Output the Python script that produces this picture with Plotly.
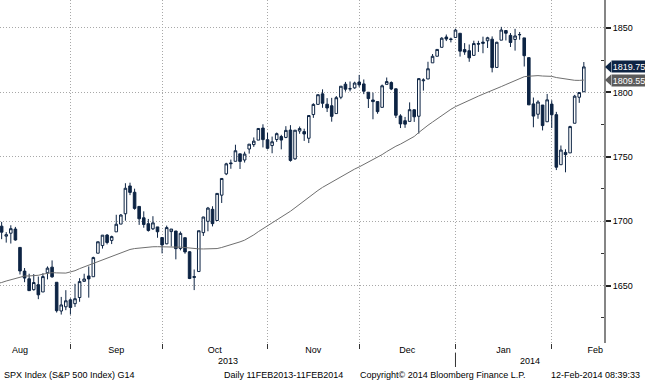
import numpy as np
import plotly.graph_objects as go

# ---------------- data (S&P 500 daily) ----------------
# closes before the visible window, needed for the 50-day moving average
hist_dates = [
    "2013-05-28", "2013-05-29", "2013-05-30", "2013-05-31",
    "2013-06-03", "2013-06-04", "2013-06-05", "2013-06-06", "2013-06-07",
    "2013-06-10", "2013-06-11", "2013-06-12", "2013-06-13", "2013-06-14",
    "2013-06-17", "2013-06-18", "2013-06-19", "2013-06-20", "2013-06-21",
    "2013-06-24", "2013-06-25", "2013-06-26", "2013-06-27", "2013-06-28",
    "2013-07-01", "2013-07-02", "2013-07-03", "2013-07-05",
    "2013-07-08", "2013-07-09", "2013-07-10", "2013-07-11", "2013-07-12",
    "2013-07-15", "2013-07-16", "2013-07-17", "2013-07-18", "2013-07-19",
    "2013-07-22", "2013-07-23", "2013-07-24", "2013-07-25", "2013-07-26",
    "2013-07-29", "2013-07-30", "2013-07-31",
    "2013-08-01", "2013-08-02", "2013-08-05", "2013-08-06", "2013-08-07",
]
hist_close = [
    1660.06, 1648.36, 1654.41, 1630.74,
    1640.42, 1631.38, 1608.90, 1622.56, 1643.38,
    1642.81, 1626.13, 1612.52, 1636.36, 1626.73,
    1639.04, 1651.81, 1628.93, 1588.19, 1592.43,
    1573.09, 1588.03, 1603.26, 1613.20, 1606.28,
    1614.96, 1614.08, 1615.41, 1631.89,
    1640.46, 1652.32, 1652.62, 1675.02, 1680.19,
    1682.50, 1676.26, 1680.91, 1689.37, 1692.09,
    1695.53, 1692.39, 1685.94, 1690.25, 1691.65,
    1685.33, 1685.96, 1685.73,
    1706.87, 1709.67, 1707.14, 1697.37, 1690.91,
]

dates = [
    "2013-08-08", "2013-08-09", "2013-08-12", "2013-08-13", "2013-08-14", "2013-08-15", "2013-08-16",
    "2013-08-19", "2013-08-20", "2013-08-21", "2013-08-22", "2013-08-23",
    "2013-08-26", "2013-08-27", "2013-08-28", "2013-08-29", "2013-08-30",
    "2013-09-03", "2013-09-04", "2013-09-05", "2013-09-06",
    "2013-09-09", "2013-09-10", "2013-09-11", "2013-09-12", "2013-09-13",
    "2013-09-16", "2013-09-17", "2013-09-18", "2013-09-19", "2013-09-20",
    "2013-09-23", "2013-09-24", "2013-09-25", "2013-09-26", "2013-09-27",
    "2013-09-30", "2013-10-01", "2013-10-02", "2013-10-03", "2013-10-04",
    "2013-10-07", "2013-10-08", "2013-10-09", "2013-10-10", "2013-10-11",
    "2013-10-14", "2013-10-15", "2013-10-16", "2013-10-17", "2013-10-18",
    "2013-10-21", "2013-10-22", "2013-10-23", "2013-10-24", "2013-10-25",
    "2013-10-28", "2013-10-29", "2013-10-30", "2013-10-31", "2013-11-01",
    "2013-11-04", "2013-11-05", "2013-11-06", "2013-11-07", "2013-11-08",
    "2013-11-11", "2013-11-12", "2013-11-13", "2013-11-14", "2013-11-15",
    "2013-11-18", "2013-11-19", "2013-11-20", "2013-11-21", "2013-11-22",
    "2013-11-25", "2013-11-26", "2013-11-27", "2013-11-29",
    "2013-12-02", "2013-12-03", "2013-12-04", "2013-12-05", "2013-12-06",
    "2013-12-09", "2013-12-10", "2013-12-11", "2013-12-12", "2013-12-13",
    "2013-12-16", "2013-12-17", "2013-12-18", "2013-12-19", "2013-12-20",
    "2013-12-23", "2013-12-24", "2013-12-26", "2013-12-27",
    "2013-12-30", "2013-12-31", "2014-01-02", "2014-01-03",
    "2014-01-06", "2014-01-07", "2014-01-08", "2014-01-09", "2014-01-10",
    "2014-01-13", "2014-01-14", "2014-01-15", "2014-01-16", "2014-01-17",
    "2014-01-21", "2014-01-22", "2014-01-23", "2014-01-24",
    "2014-01-27", "2014-01-28", "2014-01-29", "2014-01-30", "2014-01-31",
    "2014-02-03", "2014-02-04", "2014-02-05", "2014-02-06", "2014-02-07",
    "2014-02-10", "2014-02-11",
]
opens = [
    1693.35, 1696.10, 1688.37, 1690.65, 1693.88, 1679.61, 1661.22,
    1655.25, 1646.81, 1650.66, 1645.03, 1659.92,
    1664.29, 1652.54, 1630.25, 1633.50, 1638.89,
    1635.95, 1640.72, 1653.28, 1657.44,
    1656.85, 1675.11, 1681.04, 1689.21, 1685.04,
    1691.70, 1697.73, 1705.74, 1727.34, 1722.44,
    1711.44, 1702.60, 1698.02, 1694.05, 1695.52,
    1687.26, 1682.41, 1691.90, 1692.35, 1678.79,
    1687.15, 1676.22, 1656.99, 1660.88, 1691.09,
    1699.86, 1709.17, 1700.49, 1720.17, 1736.72,
    1745.20, 1746.48, 1752.27, 1747.48, 1756.01,
    1759.42, 1762.93, 1772.27, 1763.24, 1758.70,
    1763.40, 1765.67, 1765.00, 1770.74, 1748.37,
    1769.96, 1769.51, 1764.37, 1782.75, 1790.66,
    1798.82, 1790.79, 1789.59, 1783.52, 1796.19,
    1806.33, 1802.87, 1803.48, 1808.01,
    1806.55, 1800.10, 1794.08, 1792.82, 1788.36,
    1806.21, 1807.60, 1802.76, 1781.71, 1777.98,
    1777.48, 1786.47, 1781.46, 1809.00, 1810.39,
    1822.92, 1828.02, 1834.96, 1842.97,
    1841.47, 1842.61, 1845.86, 1833.21,
    1832.31, 1828.71, 1837.90, 1839.00, 1840.06,
    1841.26, 1819.34, 1840.52, 1847.99, 1844.23,
    1841.05, 1844.71, 1842.29, 1826.96,
    1791.03, 1783.00, 1790.15, 1777.17, 1790.88,
    1782.68, 1743.82, 1753.38, 1752.99, 1776.01,
    1796.20, 1800.45,
]
highs = [
    1700.18, 1699.42, 1691.49, 1696.81, 1695.52, 1679.61, 1663.60,
    1659.18, 1658.92, 1656.99, 1659.55, 1664.85,
    1669.51, 1652.54, 1641.18, 1646.41, 1640.08,
    1651.35, 1655.72, 1659.17, 1664.83,
    1672.40, 1684.09, 1689.13, 1689.97, 1688.73,
    1704.95, 1705.52, 1729.44, 1729.86, 1725.23,
    1711.44, 1707.63, 1701.71, 1703.85, 1695.52,
    1687.26, 1696.55, 1693.87, 1692.35, 1691.94,
    1687.15, 1676.79, 1662.47, 1692.56, 1703.44,
    1711.03, 1711.57, 1721.76, 1733.45, 1745.31,
    1747.79, 1759.33, 1752.27, 1753.94, 1759.82,
    1764.99, 1772.09, 1775.22, 1768.53, 1765.67,
    1768.78, 1767.03, 1773.74, 1774.54, 1770.78,
    1773.44, 1771.78, 1782.00, 1791.53, 1798.22,
    1802.33, 1795.51, 1795.73, 1797.16, 1804.84,
    1808.10, 1808.42, 1808.27, 1813.55,
    1810.02, 1800.10, 1799.80, 1792.82, 1806.04,
    1811.52, 1808.52, 1802.97, 1782.99, 1780.92,
    1792.22, 1786.77, 1811.08, 1810.88, 1823.75,
    1829.75, 1833.32, 1842.84, 1844.89,
    1842.47, 1849.44, 1845.86, 1838.24,
    1837.16, 1840.10, 1840.02, 1843.23, 1843.15,
    1843.45, 1839.26, 1850.84, 1847.99, 1846.04,
    1849.31, 1846.87, 1842.29, 1826.96,
    1795.98, 1793.87, 1790.15, 1798.77, 1793.88,
    1784.83, 1758.73, 1755.79, 1774.06, 1798.03,
    1799.94, 1823.54,
]
lows = [
    1684.58, 1686.02, 1683.35, 1682.62, 1684.83, 1658.59, 1652.61,
    1645.84, 1646.08, 1639.43, 1645.03, 1654.81,
    1656.02, 1629.05, 1627.47, 1630.88, 1627.47,
    1633.41, 1637.41, 1653.07, 1640.62,
    1656.85, 1675.11, 1678.70, 1681.96, 1682.22,
    1691.70, 1697.73, 1700.35, 1720.20, 1708.89,
    1697.10, 1694.90, 1691.88, 1693.11, 1687.11,
    1674.99, 1682.07, 1680.34, 1670.36, 1677.33,
    1674.70, 1655.03, 1646.47, 1660.88, 1688.52,
    1692.13, 1695.93, 1700.49, 1714.12, 1735.74,
    1740.67, 1746.48, 1740.50, 1745.50, 1752.45,
    1757.67, 1762.93, 1757.24, 1755.72, 1752.70,
    1761.56, 1755.76, 1764.40, 1746.20, 1747.63,
    1767.85, 1762.29, 1760.64, 1780.22, 1790.66,
    1788.00, 1784.72, 1777.23, 1783.52, 1794.70,
    1800.58, 1800.77, 1802.77, 1803.98,
    1798.60, 1787.85, 1779.09, 1783.38, 1788.36,
    1806.21, 1801.75, 1780.09, 1772.28, 1772.45,
    1777.48, 1777.05, 1767.99, 1801.35, 1810.25,
    1822.92, 1828.02, 1834.96, 1839.81,
    1838.77, 1842.41, 1827.74, 1829.13,
    1823.73, 1828.71, 1831.40, 1830.38, 1834.43,
    1815.52, 1819.34, 1840.52, 1840.30, 1835.23,
    1832.38, 1840.88, 1820.06, 1790.29,
    1772.88, 1779.49, 1770.45, 1777.17, 1772.26,
    1739.66, 1743.82, 1737.92, 1752.99, 1776.01,
    1791.83, 1800.41,
]
closes = [
    1697.48, 1691.42, 1689.47, 1694.16, 1685.39, 1661.32, 1655.83,
    1646.06, 1652.35, 1642.80, 1656.96, 1663.50,
    1656.78, 1630.48, 1634.96, 1638.17, 1632.97,
    1639.77, 1653.08, 1655.08, 1655.17,
    1671.71, 1683.99, 1689.13, 1683.42, 1687.99,
    1697.60, 1704.76, 1725.52, 1722.34, 1709.91,
    1701.84, 1697.42, 1692.77, 1698.67, 1691.75,
    1681.55, 1695.00, 1693.87, 1678.66, 1690.50,
    1676.12, 1655.45, 1656.40, 1692.56, 1703.20,
    1710.14, 1698.06, 1721.54, 1733.15, 1744.50,
    1744.66, 1754.67, 1746.38, 1752.07, 1759.77,
    1762.11, 1771.95, 1763.31, 1756.54, 1761.64,
    1767.93, 1762.97, 1770.49, 1747.15, 1770.61,
    1771.89, 1767.69, 1782.00, 1790.62, 1798.18,
    1791.53, 1787.87, 1781.37, 1795.85, 1804.76,
    1802.48, 1802.75, 1807.23, 1805.81,
    1800.90, 1795.15, 1792.81, 1785.03, 1805.09,
    1808.37, 1802.62, 1782.22, 1775.50, 1775.32,
    1786.54, 1781.00, 1810.65, 1809.60, 1818.32,
    1827.99, 1833.32, 1842.02, 1841.40,
    1841.07, 1848.36, 1831.98, 1831.37,
    1826.77, 1837.88, 1837.49, 1838.13, 1842.37,
    1819.20, 1838.88, 1848.38, 1845.89, 1838.70,
    1843.80, 1844.86, 1828.46, 1790.29,
    1781.56, 1792.50, 1774.20, 1794.19, 1782.59,
    1741.89, 1755.20, 1751.64, 1773.43, 1797.02,
    1799.84, 1819.75,
]

month_keys = ["2013-08", "2013-09", "2013-10", "2013-11", "2013-12", "2014-01", "2014-02"]
month_names = ["Aug", "Sep", "Oct", "Nov", "Dec", "Jan", "Feb"]
year_names = ["2013", "2014"]
price_ticks = [1650, 1700, 1750, 1800, 1850]
price_minor = [1625, 1675, 1725, 1775, 1825]
MA_DAYS = 50
FEB_2014_SESSIONS = 19

footer_left = "SPX Index (S&P 500 Index) G14"
footer_mid = "Daily 11FEB2013-11FEB2014"
footer_copy = "Copyright\u00a9 2014 Bloomberg Finance L.P."
footer_time = "12-Feb-2014 08:39:33"

# ---------------- derived ----------------
NAVY = "#0d2444"
GRAY_MA = "#6f6f6f"
FLAG_GRAY = "#5b5b5b"
FONT = "Liberation Sans"
TXT = "#000000"
GRID = "#a8a8a8"
GRID_DASH = "1px,2px"

all_dates = hist_dates + dates
all_close = np.array(hist_close + closes)
n_hist = len(hist_dates)
x_all = np.arange(len(all_dates))
x_c = x_all[n_hist:]
ma = np.convolve(all_close, np.ones(MA_DAYS) / MA_DAYS, mode="valid")
x_ma = x_all[MA_DAYS - 1:]

month_end = {}
for i, d in enumerate(all_dates):
    month_end[d[:7]] = i
tick_ends = [month_end[k] for k in month_keys[:-1]]
prev_end = month_end["2013-07"]
ends_for_labels = [prev_end] + tick_ends + [tick_ends[-1] + FEB_2014_SESSIONS]
label_pos = [(ends_for_labels[i] + ends_for_labels[i + 1]) / 2 for i in range(len(month_names))]

x_lo = x_c[0] + 0.64
x_hi = x_c[-1] + 4.4
year_break = month_end["2013-12"]
year_pos = [(x_lo + year_break) / 2, (year_break + x_hi) / 2]

fig = go.Figure()
fig.add_trace(go.Scatter(x=x_ma, y=ma, mode="lines",
                         line=dict(color=GRAY_MA, width=1), hoverinfo="skip"))
fig.add_trace(go.Candlestick(
    x=x_c, open=opens, high=highs, low=lows, close=closes,
    increasing=dict(line=dict(color=NAVY, width=1), fillcolor="white"),
    decreasing=dict(line=dict(color=NAVY, width=1), fillcolor=NAVY),
    whiskerwidth=0,
))

fig.update_layout(
    width=645, height=380,
    margin=dict(l=0, r=41, t=0, b=37),
    paper_bgcolor="white", plot_bgcolor="white",
    showlegend=False,
    boxgap=0.2,
    font=dict(family=FONT, size=9, color=TXT),
    xaxis=dict(
        range=[x_lo, x_hi], rangeslider=dict(visible=False),
        tickmode="array", tickvals=label_pos, ticktext=month_names,
        ticks="", showgrid=False, zeroline=False, showline=False,
        tickfont=dict(family=FONT, size=9, color=TXT),
        minor=dict(tickmode="array", tickvals=tick_ends, ticks="outside", ticklen=5,
                   tickwidth=1, tickcolor="#333333", showgrid=True,
                   gridcolor=GRID, griddash=GRID_DASH, gridwidth=1),
    ),
    yaxis=dict(
        side="right", range=[1605.4, 1871.7],
        tickmode="array", tickvals=price_ticks,
        ticks="outside", ticklen=5, tickwidth=2, tickcolor="#222222",
        showline=True, linecolor="#858585", linewidth=2,
        showgrid=True, gridcolor=GRID, griddash=GRID_DASH, gridwidth=1,
        zeroline=False,
        tickfont=dict(family=FONT, size=9, color=TXT),
        minor=dict(tickmode="array", tickvals=price_minor, ticks="inside", ticklen=3,
                   tickwidth=1, tickcolor="#333333", showgrid=False),
    ),
)

# year labels + separator
for name, pos in zip(year_names, year_pos):
    fig.add_annotation(x=pos, y=-0.052, xref="x", yref="paper", text=name,
                       showarrow=False, xanchor="center", yanchor="middle",
                       font=dict(family=FONT, size=9, color=TXT))
fig.add_shape(type="line", xref="x", yref="paper", x0=year_break, x1=year_break,
              y0=-0.028, y1=-0.07, line=dict(color="#333333", width=1))

# footer
fig.add_annotation(x=0, y=-0.092, xref="paper", yref="paper", xshift=2, text=footer_left,
                   showarrow=False, xanchor="left", yanchor="middle")
fig.add_annotation(x=222 / 604, y=-0.092, xref="paper", yref="paper", text=footer_mid,
                   showarrow=False, xanchor="left", yanchor="middle")
fig.add_annotation(x=358 / 604, y=-0.092, xref="paper", yref="paper", text=footer_copy,
                   showarrow=False, xanchor="left", yanchor="middle")
fig.add_annotation(x=642 / 604, y=-0.092, xref="paper", yref="paper", text=footer_time,
                   showarrow=False, xanchor="right", yanchor="middle")

# last-value flags
for val, col in [(closes[-1], NAVY), (ma[-1], FLAG_GRAY)]:
    fig.add_shape(type="path", xref="paper", yref="y", xsizemode="pixel", ysizemode="pixel",
                  xanchor=1, yanchor=val, path="M 1 0 L 7 5.5 L 7 -5.5 Z",
                  fillcolor=col, line=dict(width=0))
    fig.add_annotation(x=1, y=val, xref="paper", yref="y", xshift=7,
                       text=f"{val:.2f}", showarrow=False, xanchor="left", yanchor="middle",
                       bgcolor=col, width=34, height=11, borderpad=0,
                       font=dict(family=FONT, size=9, color="white"))

fig.write_html("out.html", config={"displayModeBar": False},
               post_script="document.body.style.margin='0px';document.body.style.overflow='hidden';")
